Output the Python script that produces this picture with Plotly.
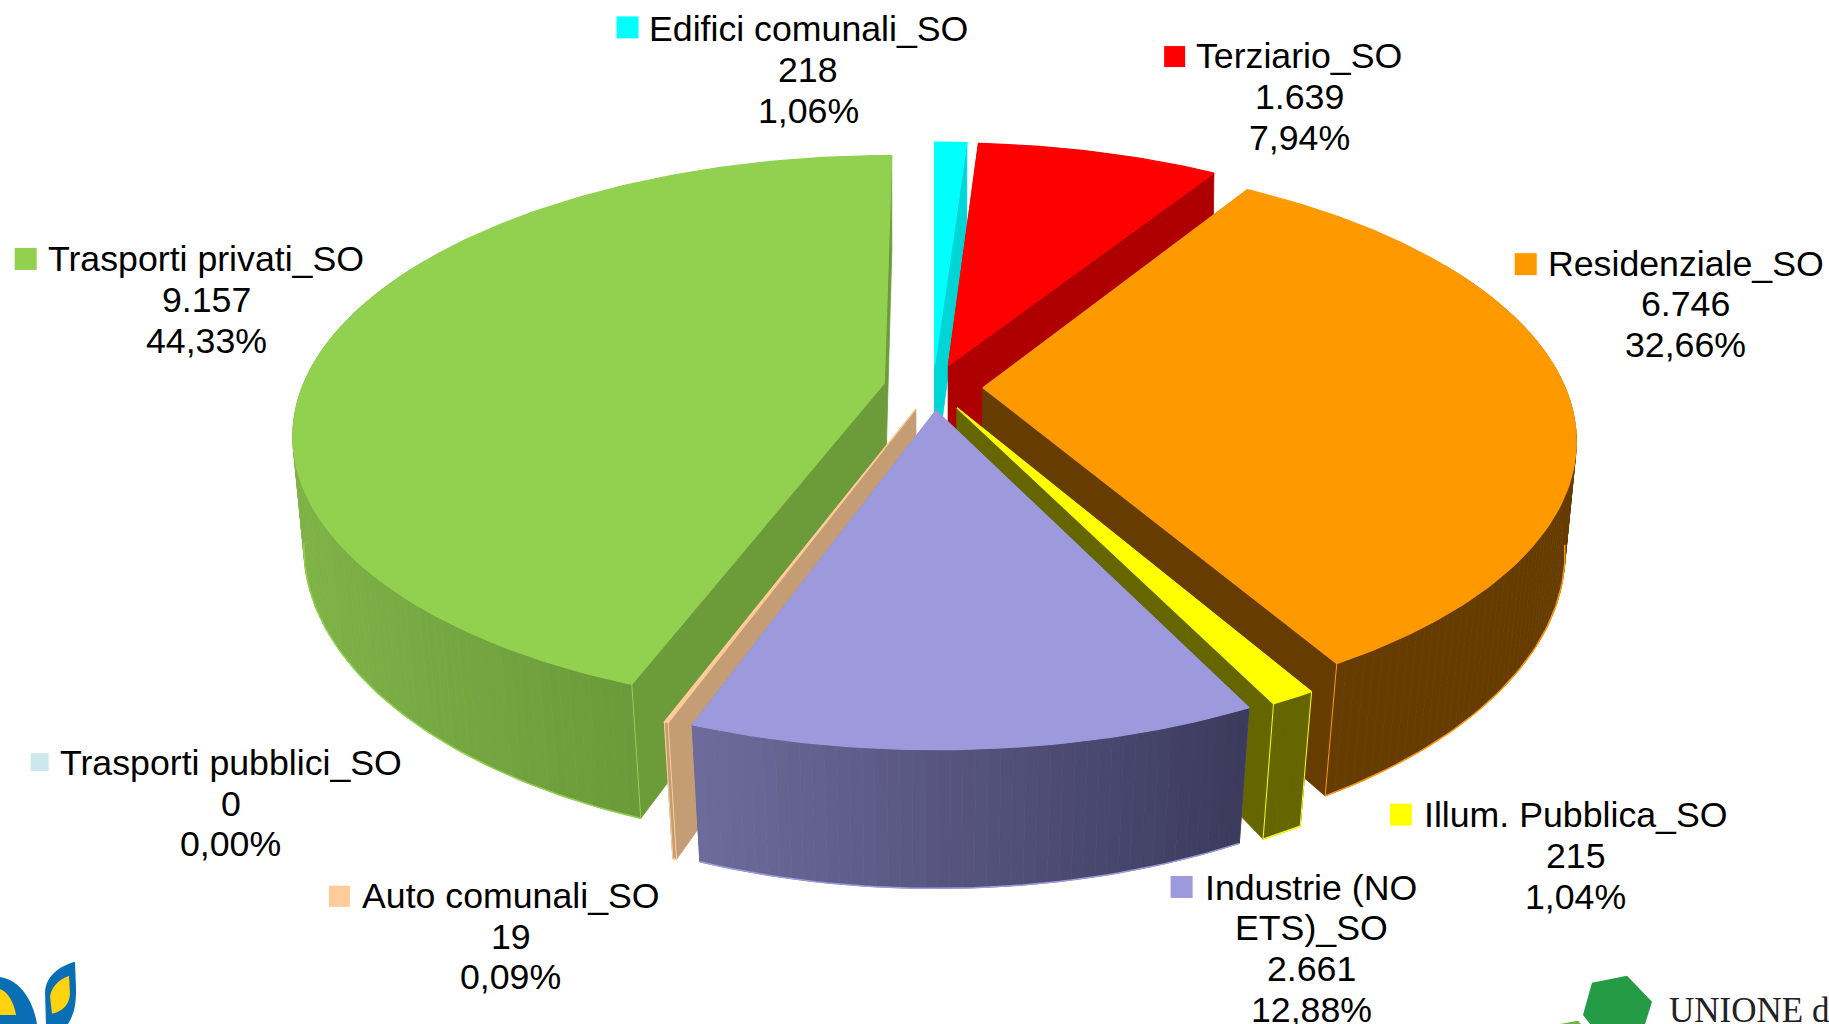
import math
import plotly.graph_objects as go

# ---------- data ----------
categories = ["Edifici comunali_SO", "Terziario_SO", "Residenziale_SO", "Illum. Pubblica_SO",
              "Industrie (NO ETS)_SO", "Auto comunali_SO", "Trasporti pubblici_SO", "Trasporti privati_SO"]
values = [218, 1639, 6746, 215, 2661, 19, 0, 9157]
label_lines = [["Edifici comunali_SO"], ["Terziario_SO"], ["Residenziale_SO"], ["Illum. Pubblica_SO"],
               ["Industrie (NO", "ETS)_SO"], ["Auto comunali_SO"], ["Trasporti pubblici_SO"], ["Trasporti privati_SO"]]

# ---------- styles ----------
top_colors = ["#00FFFF", "#FF0000", "#FF9900", "#FFFF00", "#9C9ADC", "#FFCC99", "#CCE8EC", "#92D050"]
wall_left = ["#00D5D5", "#AE0000", "#663C00", "#666600", "#6E6C9C", "#C49D75", "#CCE8EC", "#7FB347"]
wall_right = ["#00D5D5", "#AE0000", "#663C00", "#666600", "#3C3B5E", "#C49D75", "#CCE8EC", "#6A9A3A"]
radial_wall = ["#00D5D5", "#AE0000", "#663C00", "#666600", "#6E6C9C", "#C49D75", "#CCE8EC", "#6C9C3A"]
corner_line = [False, False, True, True, False, True, False, True]
paint_order = [0, 1, 2, 3, 7, 5, 4]

# label layout, in reference units (1568 wide)
line1_x = [693, 1114, 1445, 1351, 1124, 438, 198, 177]
line1_y = [25, 48, 226, 699, 761, 768, 654, 222]
key_x = [538, 1007, 1308, 1201, 1013, 291, 34, 22]
key_y = [23.5, 48.5, 226.5, 698.5, 760.5, 768.5, 653.5, 222]
key_size = [22, 21, 22, 22, 22, 21, 18, 22]
line_step = 35
FONT_PX = 35.7

# ---------- projection ----------
CX, CY, A, B, K, EXPLODE = 800, 332, 499, 231, 0.178, 0.0855
DEPTH = 96
W, H_ = 1568, 878
SCALE = 1829 / 1568


def project(u, v, bottom=False):
    s = 1 / (1 - K * v)
    x = CX + A * u * s
    y = CY + B * v * s
    if bottom:
        shrink = 0.985 - 0.075 * (s - 1)
        x = CX + (x - CX) * shrink
        y = y + DEPTH * s
    return x, y


fig = go.Figure()


def poly(pts, color, width=1.0):
    xs = [p[0] for p in pts] + [pts[0][0]]
    ys = [p[1] for p in pts] + [pts[0][1]]
    fig.add_trace(go.Scatter(x=xs, y=ys, mode="lines", fill="toself", fillcolor=color,
                             line=dict(color=color, width=width), hoverinfo="skip", showlegend=False))


def path(pts, color, width):
    fig.add_trace(go.Scatter(x=[p[0] for p in pts], y=[p[1] for p in pts], mode="lines",
                             line=dict(color=color, width=width), hoverinfo="skip", showlegend=False))


def lerp_color(c0, c1, t):
    a = [int(c0[i:i + 2], 16) for i in (1, 3, 5)]
    b = [int(c1[i:i + 2], 16) for i in (1, 3, 5)]
    return "#%02X%02X%02X" % tuple(round(p + (q - p) * t) for p, q in zip(a, b))


total = sum(values)
starts = []
running = 0
for val in values:
    starts.append(running)
    running += val

for i in paint_order:
    a0 = 2 * math.pi * starts[i] / total
    a1 = 2 * math.pi * (starts[i] + values[i]) / total
    mid = (a0 + a1) / 2
    ou, ov = EXPLODE * math.sin(mid), -EXPLODE * math.cos(mid)
    n = max(2, int(math.degrees(a1 - a0)))
    angs = [a0 + (a1 - a0) * j / n for j in range(n + 1)]
    rim = [(ou + math.sin(a), ov - math.cos(a)) for a in angs]
    top_rim = [project(u, v) for u, v in rim]
    bot_rim = [project(u, v, True) for u, v in rim]
    apex_t, apex_b = project(ou, ov), project(ou, ov, True)

    # radial walls
    poly([apex_t, top_rim[0], bot_rim[0], apex_b], radial_wall[i], 0.8)
    poly([apex_t, top_rim[-1], bot_rim[-1], apex_b], radial_wall[i], 0.8)

    # curved outer wall, front part only
    front = [j for j, a in enumerate(angs) if -math.cos(a) > -0.5]
    if front:
        seen = [j for j in front if -math.cos(angs[j]) > 0.15]
        xs = [bot_rim[j][0] for j in seen]
        xmin, xmax = (min(xs), max(xs)) if xs else (0, 1)
        for j in front[:-1]:
            t = min(1, max(0, (bot_rim[j][0] - xmin) / max(1, xmax - xmin)))
            poly([top_rim[j], top_rim[j + 1], bot_rim[j + 1], bot_rim[j]],
                 lerp_color(wall_left[i], wall_right[i], t), 0.8)
        if seen:
            path([bot_rim[j] for j in seen], top_colors[i], 1.5)

    if corner_line[i]:
        for j in (0, -1):
            if -math.cos(angs[j]) > 0.5:
                path([top_rim[j], bot_rim[j]], top_colors[i], 1)

    # top face
    poly([apex_t] + top_rim, top_colors[i], 1.2)

# ---------- legend keys and labels ----------
fig.add_trace(go.Scatter(x=key_x, y=key_y, mode="markers",
                         marker=dict(symbol="square", size=key_size, color=top_colors, opacity=1, line=dict(width=0)),
                         hoverinfo="skip", showlegend=False))

annotations = []


def add_text(x, y, text):
    annotations.append(dict(x=x, y=y, xref="x", yref="y", text=text, showarrow=False,
                            xanchor="center", yanchor="middle",
                            font=dict(family="Liberation Sans", size=FONT_PX, color="#000000")))


for i, lines in enumerate(label_lines):
    pct = f"{100 * values[i] / total:.2f}".replace(".", ",") + "%"
    val = f"{values[i]:,}".replace(",", ".")
    for j, txt in enumerate(lines + [val, pct]):
        add_text(line1_x[i], line1_y[i] + j * line_step, txt)

# logo text, cut by the page edge as in the reference
annotations.append(dict(x=1429, y=866, xref="x", yref="y", text="UNIONE d", showarrow=False,
                        xanchor="left", yanchor="middle",
                        font=dict(family="Liberation Serif", size=35, color="#222222")))


def svg(cmds):
    out = []
    for c in cmds:
        if isinstance(c, str):
            out.append(c)
        else:
            out.append(f"{c[0] / SCALE:.1f},{c[1] / SCALE:.1f}")
    return " ".join(out)


def shape(cmds, color):
    return dict(type="path", xref="x", yref="y", path=svg(cmds), fillcolor=color, line=dict(width=0), layer="below")


BLUE, GOLD, HEX = "#0A6EB4", "#FFD20F", "#259B45"
shapes = [
    shape(["M", (75, 962), "C", (60, 966), (46, 976), (45, 992), "L", (46, 1024), "L", (68, 1024),
           "C", (74, 1015), (76, 1005), (76, 990), "Z"], BLUE),
    shape(["M", (69, 976), "C", (58, 980), (51, 988), (50, 997), "L", (52, 1014),
           "C", (62, 1012), (69, 1005), (70, 995), "Z"], GOLD),
    shape(["M", (0, 977), "C", (20, 980), (33, 1000), (37, 1024), "L", (0, 1024), "Z"], BLUE),
    shape(["M", (0, 989), "C", (8, 992), (14, 1003), (16, 1015), "L", (0, 1015), "Z"], GOLD),
    shape(["M", (1592, 983), "L", (1627, 976), "L", (1652, 1002), "L", (1645, 1024), "L", (1590, 1024),
           "L", (1583, 1015), "Z"], HEX),
    shape(["M", (1560, 1024), "L", (1578, 1021), "L", (1581, 1024), "Z"], "#6DB33F"),
]

fig.update_layout(
    width=1829, height=1024, margin=dict(l=0, r=0, t=0, b=0),
    paper_bgcolor="white", plot_bgcolor="white", showlegend=False,
    xaxis=dict(range=[0, W], visible=False, fixedrange=True),
    yaxis=dict(range=[H_, 0], visible=False, fixedrange=True),
    annotations=annotations, shapes=shapes,
)

fig.write_html("out.html", config={"displayModeBar": False},
               post_script="document.body.style.margin='0';document.body.style.overflow='hidden';")
